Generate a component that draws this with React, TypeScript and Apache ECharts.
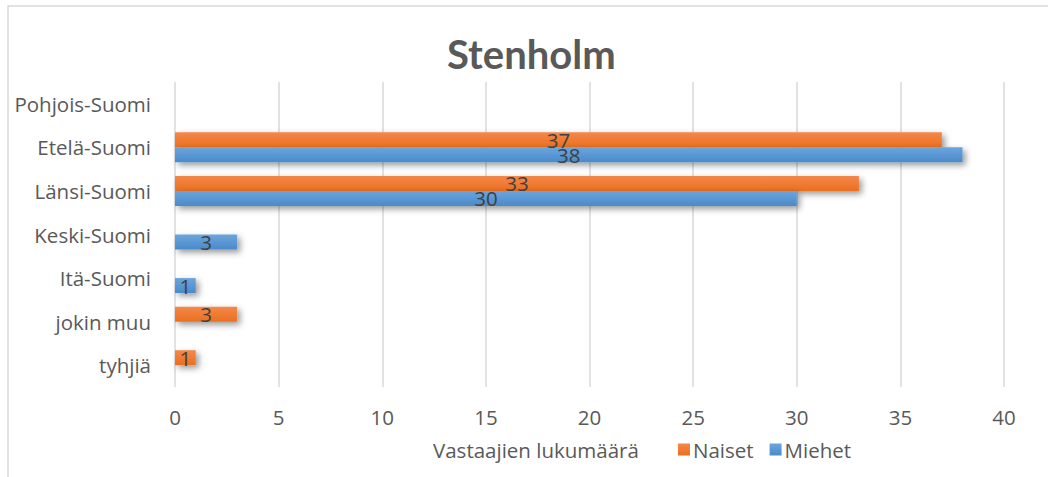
import React, { useEffect, useRef } from "react";
import * as echarts from "echarts";

const categories = ["tyhjiä", "jokin muu", "Itä-Suomi", "Keski-Suomi", "Länsi-Suomi", "Etelä-Suomi", "Pohjois-Suomi"];
const naiset = [1, 3, null, null, 33, 37, null];
const miehet = [null, null, 1, 3, 30, 38, null];
const xTicks = { min: 0, max: 40, interval: 5 };
const titleText = "Stenholm";
const axisTitle = "Vastaajien lukumäärä";

const FONT = "'Open Sans', Lato, sans-serif";
const TITLE_FONT = "Lato, 'Open Sans', sans-serif";
const FS = 20.5;

export default function App() {
  const ref = useRef<HTMLDivElement>(null);
  useEffect(() => {
    if (!ref.current) return;
    const chart = echarts.init(ref.current, undefined, { renderer: "svg" });
    const shadow = {
      shadowBlur: 6,
      shadowColor: "rgba(0,0,0,0.4)",
      shadowOffsetX: 3,
      shadowOffsetY: 3,
    };
    const label = {
      show: true,
      position: "inside",
      color: "#404040",
      fontSize: FS,
      fontFamily: FONT,
    };
    chart.setOption({
      animation: false,
      backgroundColor: "#ffffff",
      textStyle: { fontFamily: FONT },
      title: {
        text: titleText,
        left: 442,
        top: 29,
        textStyle: { fontSize: 40, fontWeight: "bold", color: "#595959", fontFamily: TITLE_FONT },
      },
      graphic: [
        {
          type: "rect",
          shape: { x: 8, y: 6, width: 1100, height: 600 },
          style: { fill: "none", stroke: "#d9d9d9", lineWidth: 1.5 },
          silent: true,
        },
        {
          type: "text",
          x: 433,
          y: 450,
          style: {
            text: axisTitle,
            fontSize: FS,
            fill: "#595959",
            fontFamily: FONT,
            verticalAlign: "middle",
          },
        },
      ],
      legend: {
        data: ["Naiset", "Miehet"],
        left: 673,
        top: 434,
        itemWidth: 12,
        itemHeight: 12,
        itemGap: 16,
        icon: "rect",
        textStyle: { fontSize: FS, color: "#595959", fontFamily: FONT, padding: [0, 0, 0, -2] },
      },
      grid: { left: 175, right: 44, top: 82, bottom: 90, containLabel: false },
      xAxis: {
        type: "value",
        min: xTicks.min,
        max: xTicks.max,
        interval: xTicks.interval,
        axisLine: { show: false },
        axisTick: { show: false },
        splitLine: { lineStyle: { color: "#d9d9d9", width: 1.5 } },
        axisLabel: { fontSize: FS, color: "#595959", margin: 19, fontFamily: FONT },
      },
      yAxis: {
        type: "category",
        data: categories,
        axisLine: { show: false },
        axisTick: { show: false },
        axisLabel: { fontSize: FS, color: "#595959", margin: 24, fontFamily: FONT },
      },
      series: [
        {
          name: "Naiset",
          type: "bar",
          data: naiset,
          barWidth: 15,
          barGap: "0%",
          label,
          itemStyle: {
            color: new echarts.graphic.LinearGradient(0, 0, 0, 1, [
              { offset: 0, color: "#F4884A" },
              { offset: 1, color: "#EB6F1F" },
            ]),
            ...shadow,
          },
        },
        {
          name: "Miehet",
          type: "bar",
          data: miehet,
          barWidth: 15,
          barGap: "0%",
          label,
          itemStyle: {
            color: new echarts.graphic.LinearGradient(0, 0, 0, 1, [
              { offset: 0, color: "#6BA5DC" },
              { offset: 1, color: "#4A8ACB" },
            ]),
            ...shadow,
          },
        },
      ],
    });
    return () => chart.dispose();
  }, []);
  return (
    <div
      ref={ref}
      style={{ position: "fixed", left: 0, top: 0, width: 1048, height: 477 }}
    />
  );
}
